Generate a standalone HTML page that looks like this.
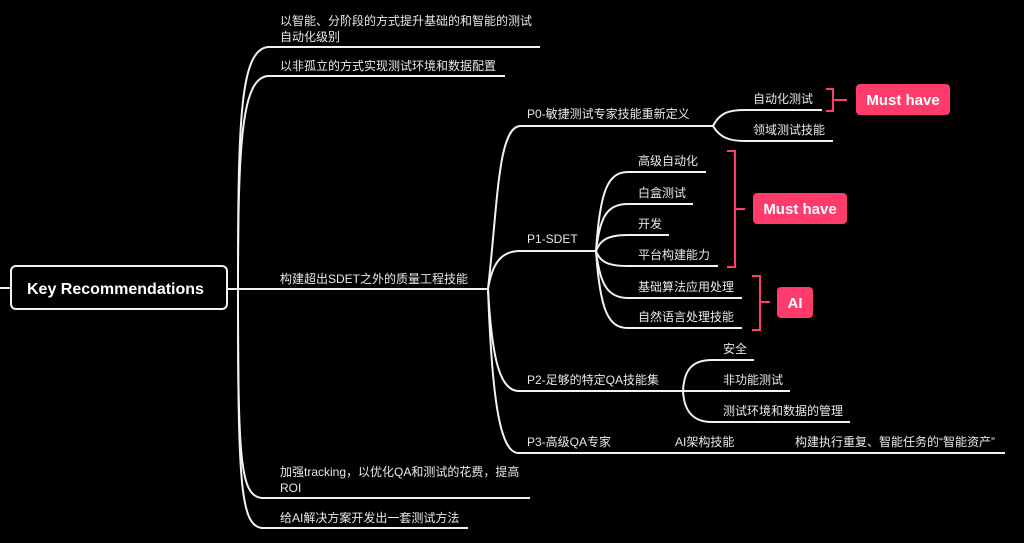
<!DOCTYPE html>
<html><head><meta charset="utf-8"><style>
html,body{margin:0;padding:0;background:#000;}
svg{display:block}
text{font-family:"Liberation Sans","Noto Sans CJK SC",sans-serif;font-size:12px;fill:#e8e8e8;}
</style></head><body>
<svg width="1024" height="543" viewBox="0 0 1024 543" xmlns="http://www.w3.org/2000/svg">
<g fill="none" stroke="#f2f2f2" stroke-width="2">
<rect x="11" y="266" width="216" height="43" rx="5"/>
<path d="M0,288 L11,288"/>
<path d="M227,289 L240,289"/>
<path d="M238,289 C238,120 240,50 268,47 L540,47"/>
<path d="M238,289 C238,140 242,78 268,76 L505,76"/>
<path d="M238,289 L488,289"/>
<path d="M238,289 C238,460 240,496 262,498 L530,498"/>
<path d="M238,289 C238,480 240,526 262,528 L468,528"/>
<path d="M488,289 C498,200 498,128 520,126 L713,126"/>
<path d="M488,289 C492,265 500,251 520,251 L596,251"/>
<path d="M488,289 C492,360 500,390 518,391 L790,391"/>
<path d="M488,289 C492,400 500,452 518,453 L1005,453"/>
<path d="M713,126 C720,112 730,110 745,110 L822,110"/>
<path d="M713,126 C720,138 730,141 745,141 L833,141"/>
<path d="M596,251 C600,190 608,172 628,172 L706,172"/>
<path d="M596,251 C600,215 608,204 628,204 L693,204"/>
<path d="M596,251 C600,240 608,235 628,235 L669,235"/>
<path d="M596,251 C600,262 608,266 628,266 L718,266"/>
<path d="M596,251 C600,285 608,298 628,298 L742,298"/>
<path d="M596,251 C600,310 608,328 628,328 L742,328"/>
<path d="M683,391 C684,370 692,360 712,360 L754,360"/>
<path d="M683,391 C684,410 692,422 712,422 L850,422"/>
</g>
<g fill="none" stroke="#ff3b6b" stroke-width="2">
<path d="M826,89 L833,89 L833,111 L826,111 M833,100 L847,100"/>
<path d="M727,151 L735,151 L735,267 L727,267 M735,209 L745,209"/>
<path d="M752,276 L760,276 L760,330 L752,330 M760,302 L770,302"/>
</g>
<g fill="#ff3b6b">
<rect x="856" y="84" width="94" height="31" rx="4"/>
<rect x="753" y="193" width="94" height="31" rx="4"/>
<rect x="777" y="287" width="36" height="31" rx="4"/>
</g>
<text x="903" y="105" text-anchor="middle" style="font-size:15px;font-weight:bold;fill:#fff">Must have</text>
<text x="800" y="214" text-anchor="middle" style="font-size:15px;font-weight:bold;fill:#fff">Must have</text>
<text x="795" y="308" text-anchor="middle" style="font-size:15px;font-weight:bold;fill:#fff">AI</text>
<text x="27" y="294" style="font-size:16px;font-weight:bold;fill:#fff">Key Recommendations</text>
<text x="280" y="25">以智能、分阶段的方式提升基础的和智能的测试</text>
<text x="280" y="41">自动化级别</text>
<text x="280" y="70">以非孤立的方式实现测试环境和数据配置</text>
<text x="280" y="283">构建超出SDET之外的质量工程技能</text>
<text x="280" y="476">加强tracking，以优化QA和测试的花费，提高</text>
<text x="280" y="492">ROI</text>
<text x="280" y="522">给AI解决方案开发出一套测试方法</text>
<text x="527" y="118">P0-敏捷测试专家技能重新定义</text>
<text x="527" y="243">P1-SDET</text>
<text x="527" y="384">P2-足够的特定QA技能集</text>
<text x="527" y="446">P3-高级QA专家</text>
<text x="675" y="446">AI架构技能</text>
<text x="795" y="446">构建执行重复、智能任务的“智能资产”</text>
<text x="753" y="103">自动化测试</text>
<text x="753" y="134">领域测试技能</text>
<text x="638" y="165">高级自动化</text>
<text x="638" y="197">白盒测试</text>
<text x="638" y="228">开发</text>
<text x="638" y="259">平台构建能力</text>
<text x="638" y="291">基础算法应用处理</text>
<text x="638" y="321">自然语言处理技能</text>
<text x="723" y="353">安全</text>
<text x="723" y="384">非功能测试</text>
<text x="723" y="415">测试环境和数据的管理</text>
</svg>
</body></html>
